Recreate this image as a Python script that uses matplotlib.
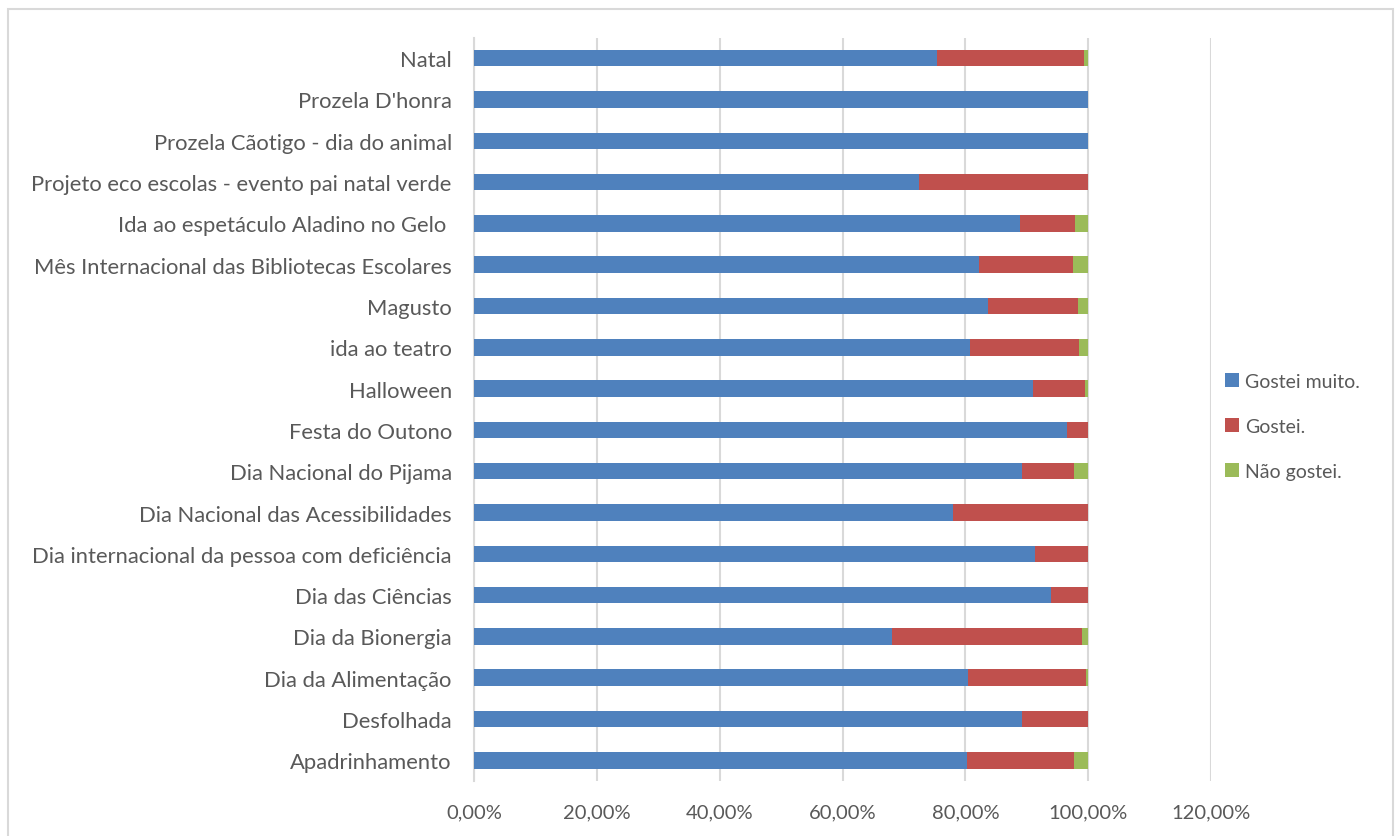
import matplotlib
matplotlib.use("Agg")
import matplotlib.pyplot as plt
from matplotlib.patches import Rectangle
import numpy as np

categories = [
    "Apadrinhamento", "Desfolhada", "Dia da Alimentação", "Dia da Bionergia",
    "Dia das Ciências", "Dia internacional da pessoa com deficiência",
    "Dia Nacional das Acessibilidades", "Dia Nacional do Pijama",
    "Festa do Outono", "Halloween", "ida ao teatro", "Magusto",
    "Mês Internacional das Bibliotecas Escolares",
    "Ida ao espetáculo Aladino no Gelo ",
    "Projeto eco escolas - evento pai natal verde",
    "Prozela Cãotigo - dia do animal", "Prozela D'honra", "Natal",
]
gostei_muito = [80.3, 89.3, 80.5, 68.1, 94.0, 91.3, 78.0, 89.3, 96.5, 91.0,
                80.8, 83.7, 82.3, 88.9, 72.4, 100.0, 100.0, 75.4]
gostei = [17.4, 10.7, 19.1, 30.9, 6.0, 8.7, 22.0, 8.4, 3.5, 8.5,
          17.7, 14.6, 15.3, 8.9, 27.6, 0.0, 0.0, 23.9]
nao_gostei = [2.3, 0.0, 0.4, 1.0, 0.0, 0.0, 0.0, 2.3, 0.0, 0.5,
              1.5, 1.7, 2.4, 2.2, 0.0, 0.0, 0.0, 0.7]
series_names = ["Gostei muito.", "Gostei.", "Não gostei."]
colors = ["#4F81BD", "#C0504D", "#9BBB59"]
xticks = [0, 20, 40, 60, 80, 100, 120]
xtick_labels = ["0,00%", "20,00%", "40,00%", "60,00%", "80,00%", "100,00%", "120,00%"]

plt.rcParams['font.family'] = ['Lato', 'DejaVu Sans']
text_color = "#595959"
grid_color = "#D9D9D9"

fig = plt.figure(figsize=(13.96, 8.37), dpi=100)
ax = fig.add_axes([474/1396, 1-782/837, (1211-474)/1396, (782-38.5)/837])

y = np.arange(len(categories))
left = np.zeros(len(categories))
for vals, name, c in zip([gostei_muito, gostei, nao_gostei], series_names, colors):
    ax.barh(y, vals, left=left, height=0.4, color=c, label=name, zorder=3)
    left = left + np.array(vals)

ax.set_xlim(0, 120)
ax.set_ylim(-0.5, len(categories) - 0.5)
ax.set_xticks(xticks)
ax.set_xticklabels(xtick_labels, fontsize=14.5)
ax.set_yticks(y)
ax.set_yticklabels(categories, fontsize=15.8)
ax.tick_params(axis='both', length=0, colors=text_color)
ax.tick_params(axis='y', pad=16)
ax.tick_params(axis='x', pad=16)
for lab in ax.get_xticklabels() + ax.get_yticklabels():
    lab.set_color(text_color)

for s in ['top', 'right', 'bottom']:
    ax.spines[s].set_visible(False)
ax.spines['left'].set_color(grid_color)
ax.spines['left'].set_linewidth(1.5)
ax.grid(axis='x', color=grid_color, linewidth=1.5, zorder=0)
ax.set_axisbelow(True)

handles, labels = ax.get_legend_handles_labels()
leg = fig.legend(handles, labels, loc='upper left',
                 bbox_to_anchor=(1207/1396, 1-356/837),
                 frameon=False, fontsize=14, handlelength=0.75, handleheight=0.75,
                 handletextpad=0.3, labelspacing=1.45)
for t in leg.get_texts():
    t.set_color(text_color)

fig.patches.append(Rectangle((8/1396, -0.05), (1393-8)/1396, 1.05 - 10/837,
                             transform=fig.transFigure, fill=False,
                             edgecolor=grid_color, linewidth=1.5))

fig.savefig("out.png", dpi=100)
